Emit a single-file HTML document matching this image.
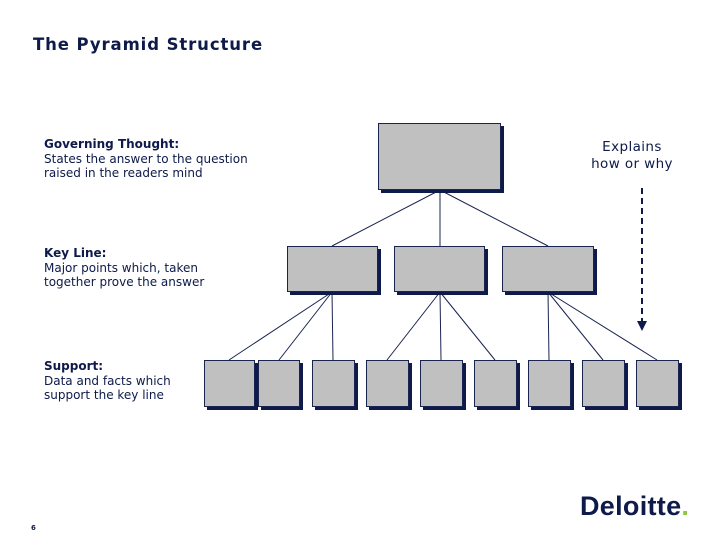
<!DOCTYPE html>
<html><head><style>
body{margin:0;width:720px;height:540px;background:#fff;position:relative;overflow:hidden;font-family:"DejaVu Sans","Liberation Sans",sans-serif;}
.t{position:absolute;color:#0d1a4a;font-size:12px;line-height:14.5px;}
.b{position:absolute;background:#c0c0c0;border:1px solid #1a2450;box-shadow:3px 3px 0 #0d1a4a;box-sizing:border-box;}
</style></head><body>
<div class="t" style="left:33px;top:35px;font-size:16.5px;font-weight:bold;line-height:20px;letter-spacing:0.9px">The Pyramid Structure</div>
<div class="t" style="left:44px;top:137px"><b>Governing Thought:</b><br>States the answer to the question<br>raised in the readers mind</div>
<div class="t" style="left:44px;top:246px"><b>Key Line:</b><br>Major points which, taken<br>together prove the answer</div>
<div class="t" style="left:44px;top:359px"><b>Support:</b><br>Data and facts which<br>support the key line</div>
<div class="t" style="left:577px;top:139px;width:110px;text-align:center;font-size:13.5px;line-height:16.5px;letter-spacing:0.4px">Explains<br>how or why</div>
<svg style="position:absolute;left:0;top:0" width="720" height="540">
<g stroke="#1a2450" stroke-width="1">
<line x1="440" y1="190" x2="332" y2="246"/><line x1="440" y1="190" x2="440" y2="246"/><line x1="440" y1="190" x2="548" y2="246"/>
<line x1="332" y1="292" x2="229" y2="360"/><line x1="332" y1="292" x2="279" y2="360"/><line x1="332" y1="292" x2="333" y2="360"/>
<line x1="440" y1="292" x2="387" y2="360"/><line x1="440" y1="292" x2="441" y2="360"/><line x1="440" y1="292" x2="495" y2="360"/>
<line x1="548" y1="292" x2="549" y2="360"/><line x1="548" y1="292" x2="603" y2="360"/><line x1="548" y1="292" x2="657" y2="360"/>
</g>
<line x1="642" y1="188" x2="642" y2="322" stroke="#0d1a4a" stroke-width="2" stroke-dasharray="6,4"/>
<polygon points="637,321 647,321 642,331" fill="#0d1a4a"/>
</svg>
<div class="b" style="left:378px;top:123px;width:123px;height:67px"></div>
<div class="b" style="left:287px;top:246px;width:91px;height:46px"></div>
<div class="b" style="left:394px;top:246px;width:91px;height:46px"></div>
<div class="b" style="left:502px;top:246px;width:92px;height:46px"></div>
<div class="b" style="left:204px;top:360px;width:51px;height:47px"></div>
<div class="b" style="left:258px;top:360px;width:42px;height:47px"></div>
<div class="b" style="left:312px;top:360px;width:43px;height:47px"></div>
<div class="b" style="left:366px;top:360px;width:43px;height:47px"></div>
<div class="b" style="left:420px;top:360px;width:43px;height:47px"></div>
<div class="b" style="left:474px;top:360px;width:43px;height:47px"></div>
<div class="b" style="left:528px;top:360px;width:43px;height:47px"></div>
<div class="b" style="left:582px;top:360px;width:43px;height:47px"></div>
<div class="b" style="left:636px;top:360px;width:43px;height:47px"></div>
<div style="position:absolute;left:580px;top:491px;font-family:'Liberation Sans',sans-serif;font-weight:bold;font-size:27px;color:#0d1a4a;letter-spacing:0.3px">Deloitte<span style="color:#8dc63f">.</span></div>
<div class="t" style="left:31px;top:524px;font-size:7px;line-height:8px;font-weight:bold">6</div>
</body></html>
